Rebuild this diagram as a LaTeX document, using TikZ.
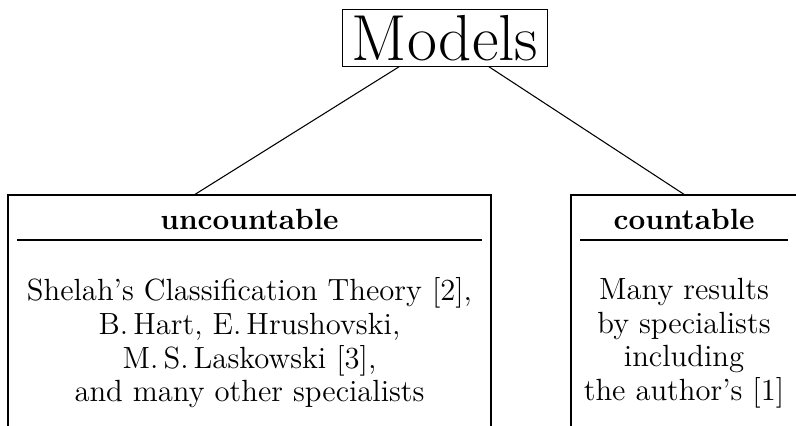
\documentclass[tikz,border=0pt]{standalone}
\begin{document}
\begin{tikzpicture}[x=0.375pt, y=-0.375pt,
  head/.style={font=\fontsize{10.95}{13.6}\selectfont\bfseries},
  body/.style={align=center, font=\fontsize{11.5}{12.6}\selectfont}]
\useasboundingbox (0,0) rectangle (796,425);
\clip (0,0) rectangle (796,425);
\node(Mod)[draw, inner xsep=3.5pt, inner ysep=2pt, font=\fontsize{24.4}{30}\selectfont] at (445,38){Models};

% the two open boxes
\coordinate(U) at (194,195);
\coordinate(C) at (685,195);
\draw (8,460) |- (491,195) -- (491,460);
\draw (571,460) |- (797,195) -- (797,460);
\draw (17,240) -- (482,240);
\draw (580,240) -- (788,240);

\node(Unc)[head] at (249.5,219){uncountable};
\node(Cnt)[head] at (684,219){countable};

\node(UncTxt)[body] at (249.5,343){Shelah's Classification Theory [2],\\
  B.\,Hart, E.\,Hrushovski,\\ M.\,S.\,Laskowski [3],\\ and many other specialists};
\node(CntTxt)[body] at (684,343){Many results\\ by specialists\\ including\\ the author's [1]};

\draw (Mod) -- (U);
\draw (Mod) -- (C);
\end{tikzpicture}
\end{document}
